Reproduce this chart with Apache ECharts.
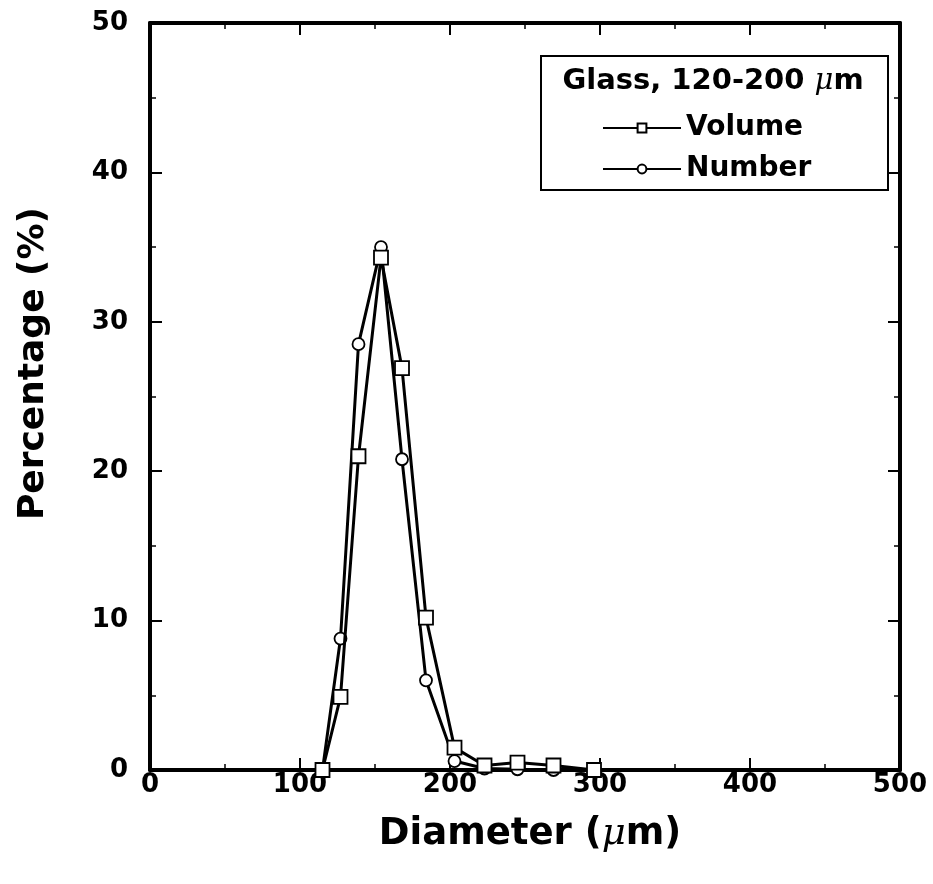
<!DOCTYPE html>
<html>
<head>
<meta charset="utf-8">
<script src="https://cdn.jsdelivr.net/npm/echarts@6/dist/echarts.min.js"></script>
<style>
  html, body { margin: 0; padding: 0; background: #fff; }
  #main { width: 933px; height: 884px; }
</style>
</head>
<body>
<div id="main"></div>
<script>
var chartDom = document.getElementById("main");
var myChart = echarts.init(chartDom);
var option;

// diameters (um) and percentages
const diameters = [115, 127, 139, 154, 168, 184, 203, 223, 245, 269, 296];
const volumePct = [0, 4.9, 21.0, 34.3, 26.9, 10.2, 1.5, 0.3, 0.5, 0.3, 0];
const numberPct = [0, 8.8, 28.5, 35.0, 20.8, 6.0, 0.6, 0.1, 0.05, 0, 0];

const xTicks = [0, 100, 200, 300, 400, 500];
const yTicks = [0, 10, 20, 30, 40, 50];

const font = "'DejaVu Sans', 'Liberation Sans', sans-serif";
const greek = "'DejaVu Serif', serif";

const pairs = function (xs, ys) {
  var res = [];
  for (var i = 0; i < xs.length; i++) {
    res.push([xs[i], ys[i]]);
  }
  return res;
};

const axisBase = {
  type: "value",
  axisLine: { show: true, onZero: false, lineStyle: { color: "#000", width: 4 } },
  axisTick: { show: true, inside: true, length: 12, lineStyle: { color: "#000", width: 2 } },
  minorTick: { show: true, splitNumber: 2, length: 6, lineStyle: { color: "#000", width: 1.5 } },
  splitLine: { show: false }
};

option = {
  backgroundColor: "#fff",
  animation: false,
  grid: { left: 150, right: 33, top: 23, bottom: 114 },
  xAxis: [
    Object.assign({}, axisBase, {
      min: xTicks[0], max: xTicks[xTicks.length - 1], interval: 100,
      position: "bottom",
      name: "{a|Diameter (}{b|μ}{a|m)}",
      nameLocation: "middle",
      nameGap: 46,
      nameTextStyle: {
        padding: [0, 0, 0, 10],
        rich: {
          a: { fontFamily: font, fontWeight: "bold", fontSize: 37, color: "#000" },
          b: { fontFamily: greek, fontStyle: "italic", fontSize: 37, color: "#000" }
        }
      },
      axisLabel: { margin: 2, fontFamily: font, fontWeight: "bold", fontSize: 26, color: "#000" }
    }),
    Object.assign({}, axisBase, {
      min: xTicks[0], max: xTicks[xTicks.length - 1], interval: 100,
      position: "top",
      axisLabel: { show: false }
    })
  ],
  yAxis: [
    Object.assign({}, axisBase, {
      min: yTicks[0], max: yTicks[yTicks.length - 1], interval: 10,
      position: "left",
      name: "Percentage (%)",
      nameLocation: "middle",
      nameGap: 98,
      nameTextStyle: { fontFamily: font, fontWeight: "bold", fontSize: 36, color: "#000", padding: [0, 0, 0, 66] },
      axisLabel: { margin: 22, fontFamily: font, fontWeight: "bold", fontSize: 26, color: "#000" }
    }),
    Object.assign({}, axisBase, {
      min: yTicks[0], max: yTicks[yTicks.length - 1], interval: 10,
      position: "right",
      axisLabel: { show: false }
    })
  ],
  legend: {
    orient: "vertical",
    left: 597,
    top: 109,
    z: 10,
    itemWidth: 78,
    itemHeight: 11,
    itemGap: 13,
    data: ["Volume", "Number"],
    textStyle: { fontFamily: font, fontWeight: "bold", fontSize: 28, color: "#000", padding: [0, 0, 0, 0] }
  },
  graphic: [
    {
      type: "rect",
      shape: { x: 541, y: 56, width: 347, height: 134 },
      style: { fill: "#fff", stroke: "#000", lineWidth: 2 },
      z: 2
    },
    {
      type: "text",
      x: 713,
      y: 81,
      z: 6,
      style: {
        text: "{a|Glass, 120-200 }{b|μ}{a|m}",
        align: "center",
        verticalAlign: "middle",
        rich: {
          a: { fontFamily: font, fontWeight: "bold", fontSize: 29, fill: "#000" },
          b: { fontFamily: greek, fontStyle: "italic", fontSize: 29, fill: "#000" }
        }
      }
    }
  ],
  series: [
    {
      name: "Number",
      type: "line",
      data: pairs(diameters, numberPct),
      symbol: "circle",
      symbolSize: 12,
      showAllSymbol: true,
      lineStyle: { color: "#000", width: 3 },
      itemStyle: { color: "#fff", borderColor: "#000", borderWidth: 1.8 },
      z: 3
    },
    {
      name: "Volume",
      type: "line",
      data: pairs(diameters, volumePct),
      symbol: "rect",
      symbolSize: 14,
      showAllSymbol: true,
      lineStyle: { color: "#000", width: 3 },
      itemStyle: { color: "#fff", borderColor: "#000", borderWidth: 1.8 },
      z: 4
    }
  ]
};

option && myChart.setOption(option);
</script>
</body>
</html>
